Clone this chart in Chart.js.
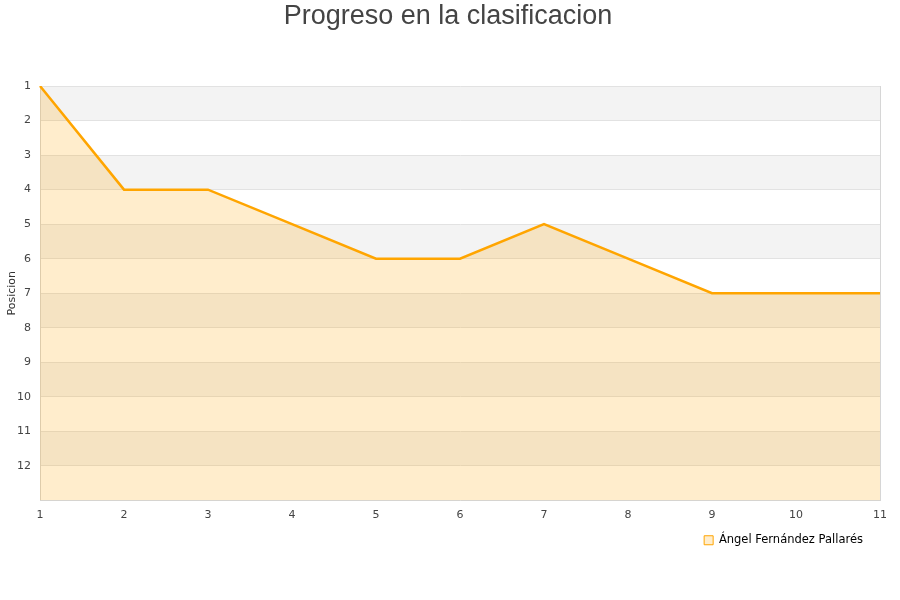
<!DOCTYPE html>
<html>
<head>
<meta charset="utf-8">
<script src="https://cdn.jsdelivr.net/npm/chart.js@4"></script>
<style>
    html, body { margin: 0; padding: 0; background: #fff; }
    #wrap { width: 900px; height: 600px; }
</style>
</head>
<body>
<div id="wrap"><canvas id="chart"></canvas></div>
<script>
const jornadas = ["1", "2", "3", "4", "5", "6", "7", "8", "9", "10", "11"];
const posiciones = [1, 4, 4, 5, 6, 6, 5, 6, 7, 7, 7];
const jugador = "Ángel Fernández Pallarés";
const chartTitle = "Progreso en la clasificacion";

// grey bands behind the grid, every other position
const bandsPlugin = {
    id: "bands",
    beforeDraw(chart) {
        const { ctx, chartArea, scales } = chart;
        const y = scales.y;
        ctx.save();
        ctx.fillStyle = "#f3f3f3";
        for (let v = y.min; v < y.max; v += 2) {
            const top = y.getPixelForValue(v);
            const bottom = y.getPixelForValue(v + 1);
            ctx.fillRect(chartArea.left, top, chartArea.right - chartArea.left, bottom - top);
        }
        ctx.restore();
    },
};

// pull the legend a bit in from the right edge
const legendShift = {
    id: "legendShift",
    afterLayout(chart) {
        if (chart.legend) chart.legend.right -= 20;
    },
};

new Chart(document.getElementById("chart"), {
    type: "line",
    data: {
        labels: jornadas,
        datasets: [
            {
                label: jugador,
                data: posiciones,
                borderColor: "#ffa500",
                backgroundColor: "rgba(255, 165, 0, 0.2)",
                borderWidth: 2.5,
                pointRadius: 0,
                tension: 0,
                fill: { value: 13 },
            },
        ],
    },
    plugins: [bandsPlugin, legendShift],
    options: {
        responsive: true,
        maintainAspectRatio: false,
        animation: false,
        layout: { padding: { left: 6, right: 10, top: 0, bottom: 44 } },
        scales: {
            x: {
                offset: false,
                grid: { display: false },
                border: { color: "#d6d6d6", width: 1 },
                ticks: {
                    color: "#444",
                    font: { family: "DejaVu Sans", size: 11 },
                    padding: 0,
                    maxRotation: 0,
                    autoSkip: false,
                },
                afterFit(scale) {
                    scale.height = 27;
                },
            },
            y: {
                reverse: true,
                min: 1,
                max: 13,
                grid: { color: "#e2e2e2", drawTicks: false },
                border: { color: "#d6d6d6", width: 1 },
                ticks: {
                    stepSize: 1,
                    color: "#444",
                    padding: 9,
                    font: { family: "DejaVu Sans", size: 11 },
                    callback: (v) => (v === 13 ? "" : v),
                },
                title: {
                    display: true,
                    text: "Posicion",
                    color: "#333",
                    font: { family: "DejaVu Sans", size: 11 },
                    padding: { top: 0, bottom: 0 },
                },
                afterFit(scale) {
                    scale.width = 34;
                },
            },
            y2: {
                position: "right",
                display: true,
                grid: { display: false },
                border: { color: "#d6d6d6", width: 1 },
                ticks: { display: false },
                afterFit(scale) {
                    scale.width = 10;
                },
            },
        },
        plugins: {
            title: {
                display: true,
                text: chartTitle,
                color: "#444",
                font: { family: "Liberation Sans", size: 27, weight: "normal" },
                padding: { top: 0, bottom: 53.6 },
            },
            legend: {
                position: "bottom",
                align: "end",
                labels: {
                    boxWidth: 9,
                    boxHeight: 9,
                    color: "#000",
                    font: { family: "DejaVu Sans", size: 11.5 },
                    padding: 7,
                    generateLabels(chart) {
                        const items = Chart.defaults.plugins.legend.labels.generateLabels(chart);
                        items.forEach((item) => {
                            item.lineWidth = 1;
                        });
                        return items;
                    },
                },
            },
            tooltip: { enabled: false },
        },
    },
});
</script>
</body>
</html>
